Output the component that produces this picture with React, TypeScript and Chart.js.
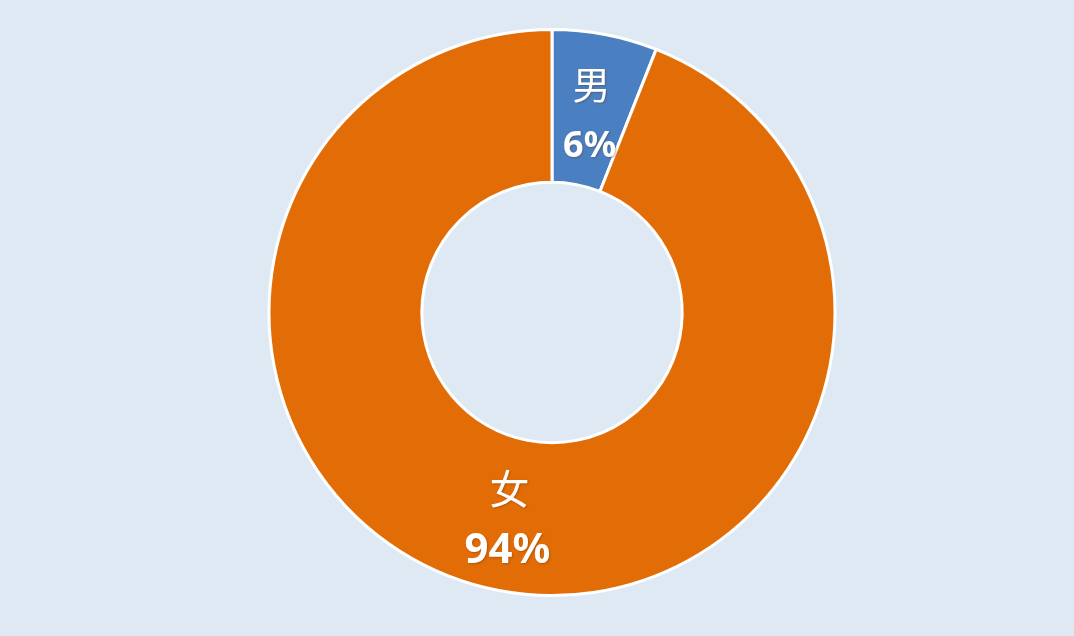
import React, { useEffect, useRef } from "react";
import { Chart, registerables } from "chart.js";

Chart.register(...registerables);

const genders = ["男", "女"];
const shares = [6, 94];
const sliceColors = ["#4a7fc2", "#e26c05"];

// draws "name / percent" in the middle of each slice
const sliceLabels = {
  id: "sliceLabels",
  afterDatasetsDraw(chart: any) {
    const ctx = chart.ctx;
    const meta = chart.getDatasetMeta(0);
    meta.data.forEach((arc: any, i: number) => {
      const { x, y, startAngle, endAngle, innerRadius, outerRadius } = arc.getProps(
        ["x", "y", "startAngle", "endAngle", "innerRadius", "outerRadius"],
        true
      );
      const mid = (startAngle + endAngle) / 2;
      const r = innerRadius + (outerRadius - innerRadius) * (i === 0 ? 0.46 : 0.53);
      const cx = x + Math.cos(mid) * r - (i === 0 ? 0 : 5);
      const cy = y + Math.sin(mid) * r;
      const big = i === 0 ? 36 : 42;
      ctx.save();
      ctx.textAlign = "center";
      ctx.textBaseline = "middle";
      ctx.fillStyle = "#ffffff";
      ctx.shadowColor = "rgba(90,50,0,0.35)";
      ctx.shadowBlur = 2;
      ctx.shadowOffsetX = 1;
      ctx.shadowOffsetY = 1;
      ctx.font = (i === 0 ? 38 : 40) + 'px "Noto Sans CJK SC"';
      ctx.fillText(genders[i], cx + 2, cy - 31);
      ctx.font = "bold " + big + 'px "Noto Sans", "DejaVu Sans", sans-serif';
      ctx.fillText(shares[i] + "%", cx, cy + 31);
      ctx.restore();
    });
  },
};

export default function App() {
  const chartRef = useRef<HTMLCanvasElement | null>(null);
  const chartInstanceRef = useRef<Chart | null>(null);

  useEffect(() => {
    if (!chartRef.current) return;
    const ctx = chartRef.current.getContext("2d");
    if (!ctx) return;

    if (chartInstanceRef.current) {
      chartInstanceRef.current.destroy();
    }

    chartInstanceRef.current = new Chart(ctx, {
      type: "doughnut",
      data: {
        labels: genders,
        datasets: [
          {
            data: shares,
            backgroundColor: sliceColors,
            borderColor: "#ffffff",
            borderWidth: 3,
          },
        ],
      },
      options: {
        animation: false,
        responsive: true,
        maintainAspectRatio: false,
        cutout: "46%",
        layout: { padding: { left: 30, top: 28, bottom: 39, right: 0 } },
        plugins: {
          legend: { display: false },
          tooltip: { enabled: false },
        },
      },
      plugins: [sliceLabels],
    });

    return () => {
      if (chartInstanceRef.current) {
        chartInstanceRef.current.destroy();
      }
    };
  }, []);

  return (
    <div
      style={{
        position: "fixed",
        left: 0,
        top: 0,
        width: 1074,
        height: 636,
        background: "#dfe9f4",
      }}
    >
      <canvas ref={chartRef} style={{ width: "100%", height: "100%" }} />
    </div>
  );
}
